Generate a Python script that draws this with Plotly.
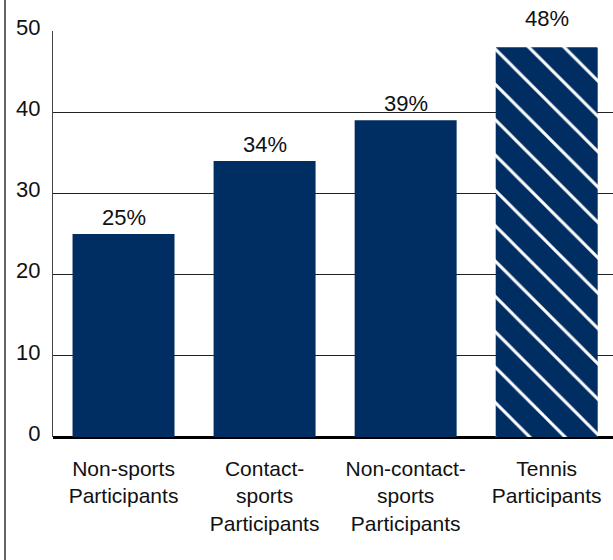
import plotly.graph_objects as go

categories = ["Non-sports<br>Participants", "Contact-<br>sports<br>Participants",
              "Non-contact-<br>sports<br>Participants", "Tennis<br>Participants"]
values = [25, 34, 39, 48]
labels = ["25%", "34%", "39%", "48%"]
patterns = ["", "", "", "\\"]
y_ticks = [0, 10, 20, 30, 40, 50]

NAVY = "#002D62"
FONT = "Liberation Sans, Arial, Helvetica, sans-serif"
FS = 21
FS_NUM = 22
YMAX = 50

fig = go.Figure()
fig.add_trace(go.Bar(
    x=list(range(len(categories))),
    y=values,
    marker=dict(
        color=NAVY,
        line=dict(width=0),
        pattern=dict(shape=patterns, size=25, solidity=0.12,
                     bgcolor=NAVY, fgcolor="white", fgopacity=1),
    ),
    hoverinfo="skip",
))

for i, (v, t) in enumerate(zip(values, labels)):
    clamped = v + 5 > YMAX
    fig.add_annotation(
        x=i, y=YMAX if clamped else v, xref="x", yref="y",
        text=t, showarrow=False, yanchor="bottom",
        yshift=-2 if clamped else 2,
        font=dict(size=FS_NUM, color="#111", family=FONT),
    )

W, H = 613, 560
ml, mr, mt, mb = 53, 0, 31, 123
plot_w = W - ml - mr
plot_h = H - mt - mb

fig.add_shape(type="line", xref="paper", yref="paper",
              x0=(5 - ml) / plot_w, x1=(5 - ml) / plot_w,
              y0=-mb / plot_h, y1=1 + mt / plot_h,
              line=dict(color="#333", width=1.5))

fig.update_layout(
    width=W, height=H,
    margin=dict(l=ml, r=mr, t=mt, b=mb, pad=0, autoexpand=False),
    paper_bgcolor="white", plot_bgcolor="white",
    bargap=0.277,
    showlegend=False,
    font=dict(family=FONT, size=FS, color="#111"),
    xaxis=dict(
        range=[-0.5, 3.47],
        tickvals=list(range(len(categories))),
        ticktext=categories,
        showgrid=False, showline=False, zeroline=False,
        ticks="", ticklabelstandoff=17, automargin=False,
        tickfont=dict(size=FS, family=FONT, color="#111"),
        fixedrange=True,
    ),
    yaxis=dict(
        range=[0, YMAX],
        tickvals=y_ticks,
        showgrid=True, gridcolor="#222", gridwidth=1,
        zeroline=True, zerolinecolor="#000", zerolinewidth=3,
        showline=True, linecolor="#444", linewidth=1,
        ticks="", ticklabelstandoff=7, ticklabelshift=-4, automargin=False,
        tickfont=dict(size=FS_NUM, family=FONT, color="#111"),
        fixedrange=True,
    ),
)

fig.write_html(
    "out.html",
    config={"displayModeBar": False},
    post_script="document.body.style.margin='0';document.body.style.overflow='hidden';",
)
